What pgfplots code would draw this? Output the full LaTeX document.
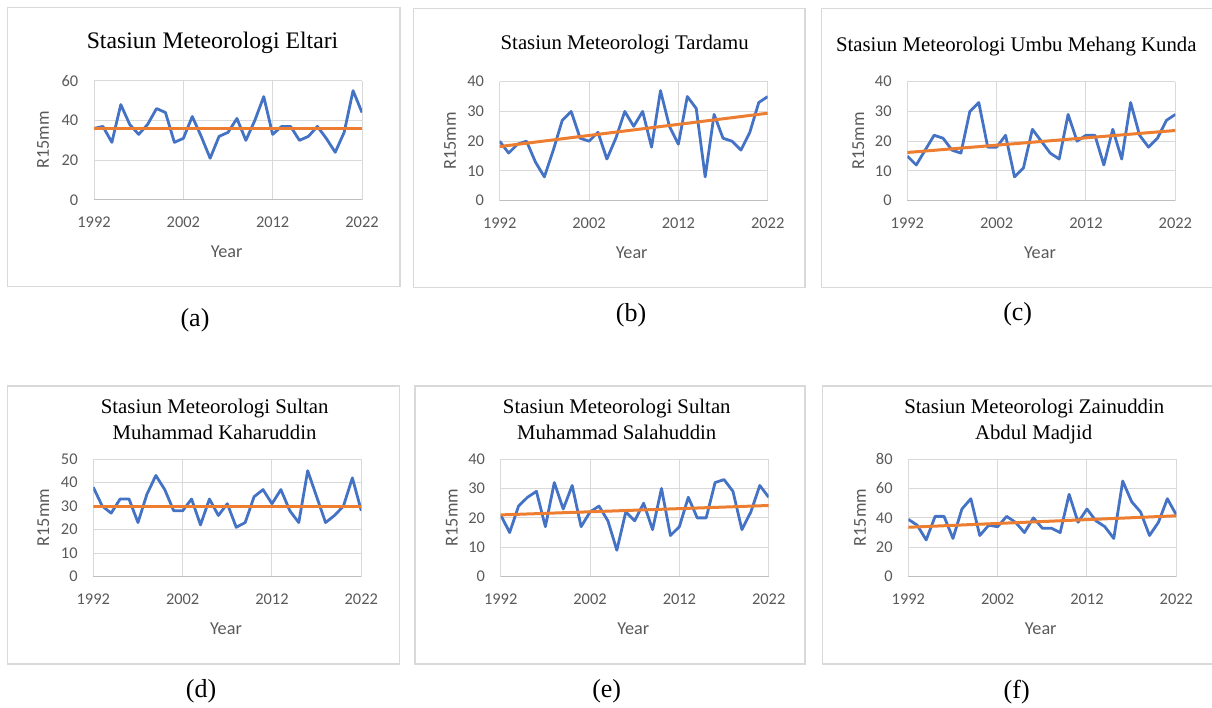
\documentclass[border=0pt]{standalone}
\usepackage{fontspec}
\setmainfont{Liberation Serif}
\newfontfamily\carlito{Carlito}
\usepackage{pgfplots}
\usepackage{pgfplotstable}
\pgfplotsset{compat=1.18}
\definecolor{xlblue}{HTML}{4472C4}
\definecolor{xlorange}{HTML}{ED7D31}
\definecolor{gridgray}{HTML}{D9D9D9}
\definecolor{axgray}{HTML}{BFBFBF}
\definecolor{txtgray}{HTML}{595959}

\pgfplotstableread{
year a b c d e f
1992 36 20 15 38 21 39
1993 37 16 12 30 15 35
1994 29 19 17 27 24 25
1995 48 20 22 33 27 41
1996 38 13 21 33 29 41
1997 33 8 17 23 17 26
1998 38 17 16 35 32 46
1999 46 27 30 43 23 53
2000 44 30 33 37 31 28
2001 29 21 18 28 17 35
2002 31 20 18 28 22 34
2003 42 23 22 33 24 41
2004 32 14 8 22 19 37
2005 21 21 11 33 9 30
2006 32 30 24 26 22 40
2007 34 25 20 31 19 33
2008 41 30 16 21 25 33
2009 30 18 14 23 16 30
2010 40 37 29 34 30 56
2011 52 25 20 37 14 37
2012 33 19 22 31 17 46
2013 37 35 22 37 27 38
2014 37 31 12 28 20 34
2015 30 8 24 23 20 26
2016 32 29 14 45 32 65
2017 37 21 33 34 33 51
2018 31 20 22 23 29 44
2019 24 17 18 26 16 28
2020 34 23 21 30 22 37
2021 55 33 27 42 31 53
2022 44 35 29 28 27 42
}\datatable

\pgfplotsset{panel/.style={
  scale only axis, width=268pt, anchor=south west,
  xmin=1992, xmax=2022, ymin=0,
  xtick={1992,2002,2012,2022},
  axis x line*=bottom, axis y line*=left,
  x axis line style={-, draw=axgray, line width=1pt},
  y axis line style={-, draw=none},
  major tick length=0pt,
  grid=major, major grid style={draw=gridgray, line width=1pt},
  tick label style={font=\carlito\fontsize{16.4}{18}\selectfont, text=txtgray, inner sep=0pt},
  xticklabel style={anchor=north, yshift=-16.5pt},
  yticklabel style={anchor=east, xshift=-15.5pt},
  /pgf/number format/assume math mode=true,
  /pgf/number format/1000 sep={},
}}
\tikzset{
  ttl/.style={anchor=base, inner sep=0pt, font=\fontsize{20.8}{24}\selectfont},
  yr/.style={inner sep=0pt, text=txtgray, font=\carlito\fontsize{18.2}{20}\selectfont},
  rl/.style={inner sep=0pt, rotate=90, text=txtgray, font=\carlito\fontsize{18.2}{20}\selectfont},
  sub/.style={inner sep=0pt, font=\fontsize{26}{30}\selectfont},
  frm/.style={draw=gridgray, line width=1.3pt},
}

\begin{document}
\begin{tikzpicture}[x=1pt,y=-1pt]
\useasboundingbox (0,0) rectangle (1212,708);
% frames
\draw[frm] (7.3,7.3) rectangle (400,286.7);
\draw[frm] (413.3,8.3) rectangle (805,287.3);
\draw[frm] (821.7,8.3) rectangle (1213,287.3);
\draw[frm] (7.3,386) rectangle (399.3,664);
\draw[frm] (415,386) rectangle (805,664);
\draw[frm] (822.7,386) rectangle (1213,664);

% (a)
\begin{axis}[panel, at={(94pt,-200pt)}, height=119.3pt, ymax=60, ytick distance=20]
\addplot[xlblue, line width=2.8pt, line join=round] table[x=year,y=a]{\datatable};
\addplot[xlorange, line width=3pt] coordinates {(1992,36) (2022,36)};
\end{axis}
% (b)
\begin{axis}[panel, at={(499.7pt,-200.7pt)}, height=119pt, ymax=40, ytick distance=10]
\addplot[xlblue, line width=2.8pt, line join=round] table[x=year,y=b]{\datatable};
\addplot[xlorange, line width=3pt] coordinates {(1992,18.2) (2022,29.4)};
\end{axis}
% (c)
\begin{axis}[panel, at={(907.3pt,-200.7pt)}, height=119pt, ymax=40, ytick distance=10]
\addplot[xlblue, line width=2.8pt, line join=round] table[x=year,y=c]{\datatable};
\addplot[xlorange, line width=3pt] coordinates {(1992,16.2) (2022,23.6)};
\end{axis}
% (d)
\begin{axis}[panel, at={(93.3pt,-576.7pt)}, height=117.7pt, ymax=50, ytick distance=10]
\addplot[xlblue, line width=2.8pt, line join=round] table[x=year,y=d]{\datatable};
\addplot[xlorange, line width=3pt] coordinates {(1992,30) (2022,30)};
\end{axis}
% (e)
\begin{axis}[panel, at={(500.7pt,-576.7pt)}, height=117.7pt, ymax=40, ytick distance=10]
\addplot[xlblue, line width=2.8pt, line join=round] table[x=year,y=e]{\datatable};
\addplot[xlorange, line width=3pt] coordinates {(1992,21) (2022,24.2)};
\end{axis}
% (f)
\begin{axis}[panel, at={(908.3pt,-576.7pt)}, height=117.7pt, ymax=80, ytick distance=20]
\addplot[xlblue, line width=2.8pt, line join=round] table[x=year,y=f]{\datatable};
\addplot[xlorange, line width=3pt] coordinates {(1992,33.6) (2022,41.4)};
\end{axis}

% titles
\node[ttl, font=\fontsize{23.7}{28}\selectfont] at (212.5,48.3) {Stasiun Meteorologi Eltari};
\node[ttl] at (624.7,50) {Stasiun Meteorologi Tardamu};
\node[ttl] at (1016.3,51.7) {Stasiun Meteorologi Umbu Mehang Kunda};
\node[ttl] at (214.7,413.3) {Stasiun Meteorologi Sultan};
\node[ttl] at (214.5,439.3) {Muhammad Kaharuddin};
\node[ttl] at (616.8,413.3) {Stasiun Meteorologi Sultan};
\node[ttl] at (616.7,439.3) {Muhammad Salahuddin};
\node[ttl] at (1034.3,413.3) {Stasiun Meteorologi Zainuddin};
\node[ttl] at (1033.7,439.3) {Abdul Madjid};

% axis titles
\node[yr] at (226.7,251.7) {Year};
\node[yr] at (631.7,252.7) {Year};
\node[yr] at (1040,252.7) {Year};
\node[yr] at (226,628.3) {Year};
\node[yr] at (633.3,628.3) {Year};
\node[yr] at (1040.7,628.3) {Year};
\node[rl] at (43,140) {R15mm};
\node[rl] at (450,141) {R15mm};
\node[rl] at (858.3,141) {R15mm};
\node[rl] at (43.3,517.5) {R15mm};
\node[rl] at (451.7,517.5) {R15mm};
\node[rl] at (860,517.5) {R15mm};

% sub labels
\node[sub] at (195,320) {(a)};
\node[sub] at (631,315) {(b)};
\node[sub] at (1017.7,314.5) {(c)};
\node[sub] at (201,691.7) {(d)};
\node[sub] at (606.7,691.7) {(e)};
\node[sub] at (1016.7,691.7) {(f)};
\end{tikzpicture}
\end{document}
